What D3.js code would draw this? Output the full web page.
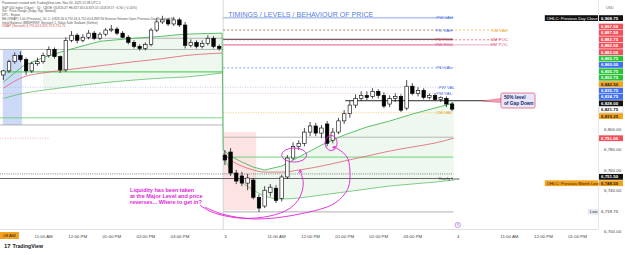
<!DOCTYPE html>
<html><head><meta charset="utf-8">
<script src="https://cdnjs.cloudflare.com/ajax/libs/d3/7.8.5/d3.min.js"></script>
<style>body{margin:0;background:#fff;overflow:hidden}svg{display:block;font-family:"Liberation Sans",Arial,sans-serif}</style>
</head><body><svg id="c" width="625" height="255"></svg>
<script>
// ---------------- DATA ----------------
// 10-minute bars, slot = day*41 + minutes since 9:30 / 10
const day1StartSlot = 2;
const day1Candles = [ // [open, high, low, close]
 [6853,6858,6848,6857],[6857,6868,6855,6866],[6866,6875,6864,6872],[6872,6876,6866,6868],
 [6868,6870,6853,6857],[6857,6866,6855,6864],[6864,6870,6862,6866],[6866,6875,6864,6872],
 [6872,6881,6870,6878],[6878,6880,6869,6871],[6871,6872,6855,6858],[6858,6890,6856,6887],
 [6887,6896,6885,6892],[6892,6894,6884,6887],[6887,6893,6885,6890],[6890,6897,6888,6894],
 [6894,6896,6887,6889],[6889,6895,6887,6893],[6893,6899,6891,6897],[6897,6902,6895,6898],
 [6898,6900,6892,6894],[6894,6896,6889,6890],[6890,6892,6883,6885],[6885,6887,6879,6881],
 [6881,6883,6877,6879],[6879,6885,6877,6883],[6883,6899,6881,6897],[6897,6909,6895,6905],
 [6905,6911,6903,6907],[6907,6909,6901,6903],[6903,6910,6901,6907],[6907,6909,6900,6902],
 [6902,6905,6879,6882],[6882,6888,6880,6885],[6885,6887,6879,6881],[6881,6887,6879,6884],
 [6884,6892,6882,6889],[6889,6891,6879,6881],[6881,6883,6877,6879]
];
const day2StartSlot = 41;
const day2Candles = [
 [6774.5,6779.4,6764.7,6769.6],[6777.5,6781.4,6754,6756.9],[6756.9,6760,6746,6749],[6754,6758,6744,6747],
 [6747,6756,6740,6752],[6750,6752,6731,6733],[6733,6736,6718.75,6722.5],[6724.5,6744,6722.5,6740],
 [6738,6746,6734,6743],[6742,6745,6727.5,6730],[6732,6755,6729,6753],[6753,6774.5,6751,6771.6],
 [6771.6,6787,6769.6,6783],[6783,6789,6779.4,6786],[6786,6801,6783,6797],[6797,6807,6793,6803],
 [6803,6806,6793,6796],[6796,6804,6791,6801],[6805,6808,6783,6786],[6789,6801,6786,6797],
 [6797,6811,6795,6808],[6808,6818.5,6805,6815],[6815,6827.5,6811,6823.5],[6823.5,6834,6820.5,6830],
 [6830,6837,6827.5,6833],[6833,6837,6828.5,6831],[6832,6840,6830,6837],[6837,6839,6830,6833],
 [6833,6836,6820.5,6822.5],[6824.5,6833,6821.5,6830],[6830,6835,6826.5,6832],[6832,6834,6816.75,6818.5],
 [6820.5,6848,6818.5,6842],[6842,6845,6833,6835],[6835,6841,6832,6838],[6838,6840,6829,6831],
 [6831,6835,6829,6833],[6833,6835,6827.5,6829],[6829,6832,6826.5,6831],[6830,6832,6821.5,6824.5],
 [6824.5,6826.5,6817.5,6819.5]
];
// VWAP bands (session)
const band1Slots = [2,5.5,9,13,19,25,30,34,40.5];
const band1Upper = [6846,6862,6870,6877,6886,6889,6891,6893,6894];
const band1Mid   = [6840,6851,6855,6858,6862,6866,6869,6872,6874.5];
const band1Lower = [6830,6835,6838,6841,6845,6848,6850,6851,6855];
const band2Slots = [40.7,42,44,46,48,51,54,58,62,66,70,74,78,81.3];
const band2Upper = [6779.4,6773.5,6767.6,6762.7,6759.8,6763.7,6772.5,6784.3,6794.1,6802,6807.8,6814.7,6820.6,6825.5];
const band2Mid   = [6776.5,6769.6,6763.7,6759.8,6757.8,6757.8,6759.8,6763.7,6768.6,6773.5,6778.4,6782.4,6786.3,6791];
const band2Lower = [6773.5,6759.8,6748,6740.2,6734.3,6731.4,6732.4,6735.3,6738.2,6741.2,6744.1,6746.1,6748,6750];
// Horizontal levels
const levelNames  = ['PW VAH','PD VAH','CM VAH','PD POC','CM POC','PW POC','PM POC','PD VAL','PW VAL','PM VAL','Gap 50%','CM VAL','D1 A','D1 B','D1 Green','D1 Green 2','D1 Grey','D1 Pink','D2 Grey','D2 Green','Dotted','Yearly Low','Low'];
const levelPrices = [6909,6897,6897,6888,6887.5,6882.5,6882.5,6860,6841,6835,6827.75,6816,6889,6878,6856,6811,6804,6791,6792,6772.5,6756,6751.5,6718.75];
const levelFrom   = [40.7,40.7,40.7,40.7,40.7,40.7,40.7,40.7,1.4,1.4,62.2,40.7,1.4,1.4,1.4,1.4,1.4,1.4,40.7,40.7,1.4,1.4,40.7];
const levelTo     = [81.2,81.2,89.5,81.2,89.5,81.2,88.7,81.2,81.2,81.2,88.5,81.2,40.7,40.7,40.7,40.7,40.7,10,81.2,81.2,81.2,81.2,81.2];
const levelLabelAt= [81.2,81,90.85,81,90.85,81.2,90.85,81,81.5,81,null,81,null,null,null,null,null,null,null,null,null,82.3,null];
// Initial balance boxes
const ibFrom = [1.9,40.7], ibTo = [5.3,46.5], ibHigh = [6877.5,6797], ibLow = [6804,6720.5];
// Time axis
const timeTickSlots  = [9,15,21,27,33,41,50,56,62,68,74,82,91,97,103];
const timeTickLabels = ['11:00 AM','12:00 PM','01:00 PM','02:00 PM','03:00 PM','3','11:00 AM','12:00 PM','01:00 PM','02:00 PM','03:00 PM','4','11:00 AM','12:00 PM','01:00 PM'];
// Price axis
const priceTicks = [6700,6740,6760,6780,6800];
const axisLabelValues = [6908.75,6897.50,6887.50,6882.50,6882.75,6882.00,6865.75,6860.00,6855.75,6852.75,6842.50,6835.75,6834.75,6828.00,6821.75,6819.25,6791.00,6751.50,6748.50,6718.75];
const axisLabelKinds  = ['black','red','red','red','red','red','green','blue','green','green','orange','blue','blue','black','white','orange','red','black','orange','plain'];
// Annotations (slot, price)
const noteLines = ['Liquidity has been taken','at the Major Level and price','reverses... Where to get in?'];
const noteAnchor = [24.3, 6738.5];
const curveA = [[36.6,6725.5],[38.7,6718.6],[43.7,6712.7],[48.9,6714.7],[52.5,6722.5],[54.2,6733.3],[54.8,6747.1],[54.2,6759.8]];
const curveB = [[37.5,6723.5],[40.5,6716.7],[46.3,6711.8],[54.2,6716.7],[60.4,6727.5],[62.7,6742.2],[63,6759.8],[62.5,6772.5],[60.9,6780.4],[60,6782.4]];
const ellipses = [[53.2,6774.5,2.2,6.9],[59.7,6786.3,1.06,7.4]]; // cx, cy, rx(slots), ry(points)
const calloutTip = [86.4,6827.5], calloutBox = [89.6,95.6,6835.3,6820.6];
const calloutText = ['50% level','of Gap Down'];

// ---------------- DRAW ----------------
const svg = d3.select('#c');
const plotW = 598, plotH = 229;
const x = d3.scaleLinear().domain([1.408,106.69]).range([0,plotW]);
const y = d3.scaleLinear().domain([6702,6926.5]).range([plotH,0]);
const barW = (x(1)-x(0))*0.62;

svg.append('defs').append('clipPath').attr('id','clip').append('rect').attr('width',plotW).attr('height',plotH);
const g = svg.append('g').attr('clip-path','url(#clip)');

// IB boxes
const ibColors = ['rgba(110,150,235,0.35)','rgba(240,130,130,0.22)'];
ibFrom.forEach((f,i)=>{
  g.append('rect').attr('x',x(f)).attr('width',x(ibTo[i])-x(f))
   .attr('y',y(ibHigh[i])).attr('height',y(ibLow[i])-y(ibHigh[i])).attr('fill',ibColors[i]);
});

// band fills
function bandFill(slots, up, lo, from){
  const pts = slots.map((s,i)=>({s,u:up[i],l:lo[i]})).filter(d=>d.s>=from);
  g.append('path').datum(pts).attr('fill','rgba(120,200,120,0.13)')
   .attr('d', d3.area().x(d=>x(d.s)).y0(d=>y(d.l)).y1(d=>y(d.u)).curve(d3.curveMonotoneX));
}
bandFill(band1Slots, band1Upper, band1Lower, 9);
bandFill(band2Slots, band2Upper, band2Lower, 46);

// day separator
g.append('line').attr('x1',x(40.7)).attr('x2',x(40.7)).attr('y1',0).attr('y2',plotH).attr('stroke','#c8c8c8').attr('stroke-width',0.7);

// levels
const levelStyle = {
 'PW VAH':{c:'#5a7fe4',w:0.7,d:null,lc:'#4f74e0'},
 'PD VAH':{c:'#5a7fe4',w:0.7,d:'2,2',lc:'#4f74e0'},
 'CM VAH':{c:'#f2a628',w:0.7,d:'2,2',lc:'#f0a020'},
 'PD POC':{c:'#222',w:0.9,d:null,lc:'#e0405a'},
 'CM POC':{c:'#e0405a',w:0.7,d:'2,2',lc:'#e0405a'},
 'PW POC':{c:'#e070a0',w:0.8,d:null,lc:'#e05a90'},
 'PM POC':{c:'#e070a0',w:0.6,d:null,lc:'#e05a90'},
 'PD VAL':{c:'#5a7fe4',w:0.7,d:'2,2',lc:'#4f74e0'},
 'PW VAL':{c:'#9aa9d8',w:0.6,d:'1,1.5',lc:'#4f74e0'},
 'PM VAL':{c:'#d8a0b8',w:0.6,d:'1,1.5',lc:'#4f74e0'},
 'Gap 50%':{c:'#111',w:0.9,d:null},
 'CM VAL':{c:'#f2b040',w:0.7,d:'1,1.5',lc:'#f0a020'},
 'D1 A':{c:'#9a9a9a',w:0.7,d:null},
 'D1 B':{c:'#9a9a9a',w:0.7,d:null},
 'D1 Green':{c:'#5ccf6a',w:1.4,d:null},
 'D1 Green 2':{c:'#5ccf6a',w:0.8,d:null},
 'D1 Grey':{c:'#a0a0a0',w:0.8,d:null},
 'D1 Pink':{c:'#e58aa0',w:0.7,d:'1,1.5'},
 'D2 Grey':{c:'#b0b0b0',w:0.9,d:null},
 'D2 Green':{c:'#5ccf6a',w:0.9,d:null},
 'Dotted':{c:'#333',w:0.6,d:'1,1.2'},
 'Yearly Low':{c:'#555',w:0.9,d:null,lc:'#333'},
 'Low':{c:'#999',w:0.8,d:null}
};
levelNames.forEach((n,i)=>{
  const st = levelStyle[n];
  const ln = g.append('line').attr('x1',x(levelFrom[i])).attr('x2',x(levelTo[i]))
   .attr('y1',y(levelPrices[i])).attr('y2',y(levelPrices[i])).attr('stroke',st.c).attr('stroke-width',st.w);
  if(st.d) ln.attr('stroke-dasharray',st.d);
});

// band lines
function bandLine(slots, vals, color, w){
  g.append('path').datum(slots.map((s,i)=>[s,vals[i]])).attr('fill','none').attr('stroke',color).attr('stroke-width',w)
   .attr('d', d3.line().x(d=>x(d[0])).y(d=>y(d[1])).curve(d3.curveMonotoneX));
}
const upAll = band1Slots.map((s,i)=>[s,band1Upper[i]]).concat(band2Slots.map((s,i)=>[s,band2Upper[i]]));
g.append('path').datum(upAll).attr('fill','none').attr('stroke','#4cb85a').attr('stroke-width',0.9)
 .attr('d', d3.line().x(d=>x(d[0])).y(d=>y(d[1])));
bandLine(band1Slots, band1Mid, '#e06070', 0.8);
bandLine(band2Slots, band2Mid, '#e06070', 0.8);
bandLine(band1Slots, band1Lower, '#4cb85a', 0.7);
bandLine(band2Slots, band2Lower, '#4cb85a', 0.7);

// candles
function drawCandles(data, start){
  const cg = g.append('g');
  data.forEach((d,i)=>{
    const s = start+i, cx = x(s);
    const [o,h,l,c] = d; const up = c>=o;
    cg.append('line').attr('x1',cx).attr('x2',cx).attr('y1',y(h)).attr('y2',y(l)).attr('stroke','#000').attr('stroke-width',0.7);
    const top = y(Math.max(o,c)), bot = y(Math.min(o,c));
    cg.append('rect').attr('x',cx-barW/2).attr('width',barW).attr('y',top).attr('height',Math.max(0.8,bot-top))
      .attr('fill',up?'#fff':'#000').attr('stroke','#000').attr('stroke-width',0.6);
  });
}
drawCandles(day1Candles, day1StartSlot);
drawCandles(day2Candles, day2StartSlot);

// level labels
levelNames.forEach((n,i)=>{
  if(levelLabelAt[i]==null) return;
  g.append('text').attr('x',x(levelLabelAt[i])).attr('y',y(levelPrices[i])).attr('dy','0.35em')
   .attr('text-anchor','end').attr('font-size',4.4).attr('fill',levelStyle[n].lc).text(n);
});

// annotations
const mag = '#e024d8';
const ng = g.append('g');
noteLines.forEach((t,i)=>{
  ng.append('text').attr('x',x(noteAnchor[0])).attr('y',y(noteAnchor[1])+i*6.2).attr('font-size',5.5)
   .attr('font-weight','bold').attr('fill',mag).text(t);
});
const cLine = d3.line().x(d=>x(d[0])).y(d=>y(d[1])).curve(d3.curveCatmullRom);
[curveA,curveB].forEach(cv=>{
  ng.append('path').datum(cv).attr('d',cLine).attr('fill','none').attr('stroke',mag).attr('stroke-width',0.9);
  const e = cv[cv.length-1], p = cv[cv.length-2];
  const ex=x(e[0]), ey=y(e[1]); const ang=Math.atan2(ey-y(p[1]), ex-x(p[0]));
  [0.6,-0.6].forEach(a=>{
    ng.append('line').attr('x1',ex).attr('y1',ey).attr('x2',ex-3.2*Math.cos(ang+a)).attr('y2',ey-3.2*Math.sin(ang+a))
      .attr('stroke',mag).attr('stroke-width',0.9);
  });
});
ellipses.forEach(e=>{
  ng.append('ellipse').attr('cx',x(e[0])).attr('cy',y(e[1])).attr('rx',x(e[0]+e[2])-x(e[0])).attr('ry',y(e[1]-e[3])-y(e[1]))
   .attr('fill','none').attr('stroke',mag).attr('stroke-width',0.9);
});

// callout
const bx0=x(calloutBox[0]), bx1=x(calloutBox[1]), by0=y(calloutBox[2]), by1=y(calloutBox[3]);
const tipX=x(calloutTip[0]), tipY=y(calloutTip[1]);
g.append('path').attr('d',`M${bx0},${tipY-2.5} L${tipX},${tipY} L${bx0},${tipY+1.5}Z`).attr('fill','#f4a0b8').attr('stroke','#e0607a').attr('stroke-width',0.6);
g.append('rect').attr('x',bx0).attr('y',by0).attr('width',bx1-bx0).attr('height',by1-by0).attr('rx',1.5)
 .attr('fill','#e8e6f8').attr('stroke','#e0607a').attr('stroke-width',0.8);
calloutText.forEach((t,i)=>{
  g.append('text').attr('x',bx0+3).attr('y',by0+6+i*5.6).attr('font-size',4.8).attr('font-weight','bold').attr('fill','#1c2a6a').text(t);
});

// title
svg.append('text').attr('x',x(41.6)).attr('y',y(6910.3)).attr('font-size',7).attr('fill','#5a7fe0')
 .attr('textLength',145).attr('lengthAdjust','spacingAndGlyphs').text('TIMINGS / LEVELS / BEHAVIOUR OF PRICE');

// header text
const hdr = ['Paramount created with TradingView.com, Nov 03, 2025 21:38 UTC-5',
 'S&P 500 Index (Cboe) · 10 · CBOE   O6,826.47  H6,827.63  L6,819.15  C6,819.57  −6.90 (−0.10%)',
 'Vol · Price  Range  (Supp, Rgt, Normal)',
 'DPL · Expan',
 'BB (VWAP) 1.00 (Previous), 20, 2,  6,826.56  6,792.44  6,751.00  6,869.96  Session  Volume  Open  Previous Day  Standard  Ex',
 'Initial Balance (BBSF/RSP, Session)  1.  Value  Safe  Stalkam (Define)',
 'VWAP (Session)  6,791.00  6,825.75  6,751.75'];
const hy=[3.5,8.5,12,16,20,23.5,27];
hdr.forEach((t,i)=>svg.append('text').attr('x',2).attr('y',hy[i]).attr('font-size',3.2).attr('fill',i==6?'#d05050':'#555').text(t));

// time axis
svg.append('line').attr('x1',0).attr('x2',plotW).attr('y1',plotH+0.5).attr('y2',plotH+0.5).attr('stroke','#d8d8d8').attr('stroke-width',0.8);
const xa = svg.append('g').attr('transform',`translate(0,${plotH+3})`).call(
  d3.axisBottom(x).tickValues(timeTickSlots).tickSize(0).tickFormat((d,i)=>timeTickLabels[i]));
xa.select('.domain').remove();
xa.selectAll('text').attr('font-size',4.4).attr('fill','#444').attr('font-family','"Liberation Sans",Arial,sans-serif');
// crosshair time label
svg.append('rect').attr('x',0).attr('y',plotH+3).attr('width',x(4.75)).attr('height',7).attr('fill','#f4a21e');
svg.append('text').attr('x',x(4.75)/2).attr('y',plotH+8).attr('font-size',4.4).attr('text-anchor','middle').attr('fill','#222').text('08 AM');
// event marker
svg.append('circle').attr('cx',x(82)).attr('cy',plotH-4).attr('r',2.6).attr('fill','#fff').attr('stroke','#b070e0').attr('stroke-width',0.7);
svg.append('text').attr('x',x(82)).attr('y',plotH-2.6).attr('font-size',3.6).attr('text-anchor','middle').attr('fill','#b070e0').text('S');

// price axis
svg.append('line').attr('x1',plotW+0.5).attr('x2',plotW+0.5).attr('y1',0).attr('y2',plotH).attr('stroke','#e0e0e0').attr('stroke-width',0.8);
const ya = svg.append('g').attr('transform',`translate(${plotW+3},0)`).call(
  d3.axisRight(y).tickValues(priceTicks).tickSize(0).tickFormat(d3.format(',.2f')));
ya.select('.domain').remove();
ya.selectAll('text').attr('font-size',4.4).attr('fill','#444').attr('font-family','"Liberation Sans",Arial,sans-serif');
svg.append('text').attr('x',606).attr('y',9).attr('font-size',3.6).attr('fill','#666').text('USD');

// stacked price labels
const kinds = {black:{bg:'#111',fg:'#fff'},red:{bg:'#ef5059',fg:'#fff'},green:{bg:'#28c236',fg:'#fff'},blue:{bg:'#3d6ff0',fg:'#fff'},
  orange:{bg:'#f5a21c',fg:'#222'},white:{bg:'#fff',fg:'#111',st:'#bbb'},plain:{bg:'none',fg:'#333'}};
const labs = axisLabelValues.map((v,i)=>({v,k:axisLabelKinds[i],yy:y(v)})).sort((a,b)=>a.yy-b.yy);
const LH = 6.4;
for(let it=0; it<300; it++){
  for(let k=1;k<labs.length;k++){
    const ov = LH-(labs[k].yy-labs[k-1].yy);
    if(ov>0){labs[k-1].yy-=ov/2; labs[k].yy+=ov/2;}
  }
}
labs.forEach(L=>{
  const st = kinds[L.k];
  if(st.bg!=='none') svg.append('rect').attr('x',plotW+1).attr('y',L.yy-LH/2+0.3).attr('width',24).attr('height',LH-0.6)
     .attr('fill',st.bg).attr('stroke',st.st||'none').attr('stroke-width',0.4);
  svg.append('text').attr('x',plotW+3).attr('y',L.yy).attr('dy','0.35em').attr('font-size',4.4).attr('font-weight',st.bg==='none'?'normal':'bold')
   .attr('fill',st.fg).text(d3.format(',.2f')(L.v));
});
// tags
function tag(val, txt, kind, bg, fg){
  const L = labs.find(d=>d.v===val && d.k===kind);
  const w = txt.length*2.05+4;
  svg.append('rect').attr('x',plotW-w).attr('y',L.yy-LH/2+0.3).attr('width',w).attr('height',LH-0.6).attr('fill',bg);
  svg.append('text').attr('x',plotW-w+2).attr('y',L.yy).attr('dy','0.35em').attr('font-size',4.2).attr('fill',fg).text(txt);
}
tag(6908.75,'OHLC: Previous Day Close','black','#111','#fff');
tag(6748.50,'OHLC: Previous Month Low','orange','#f5a21c','#222');
tag(6718.75,'Low','plain','#e6eaf4','#333');

// TradingView logo
svg.append('text').attr('x',4).attr('y',248).attr('font-size',6).attr('font-weight','bold').attr('fill','#131722').text('17');
svg.append('text').attr('x',12.5).attr('y',248).attr('font-size',5.2).attr('font-weight','bold').attr('fill','#131722').text('TradingView');
</script></body></html>
